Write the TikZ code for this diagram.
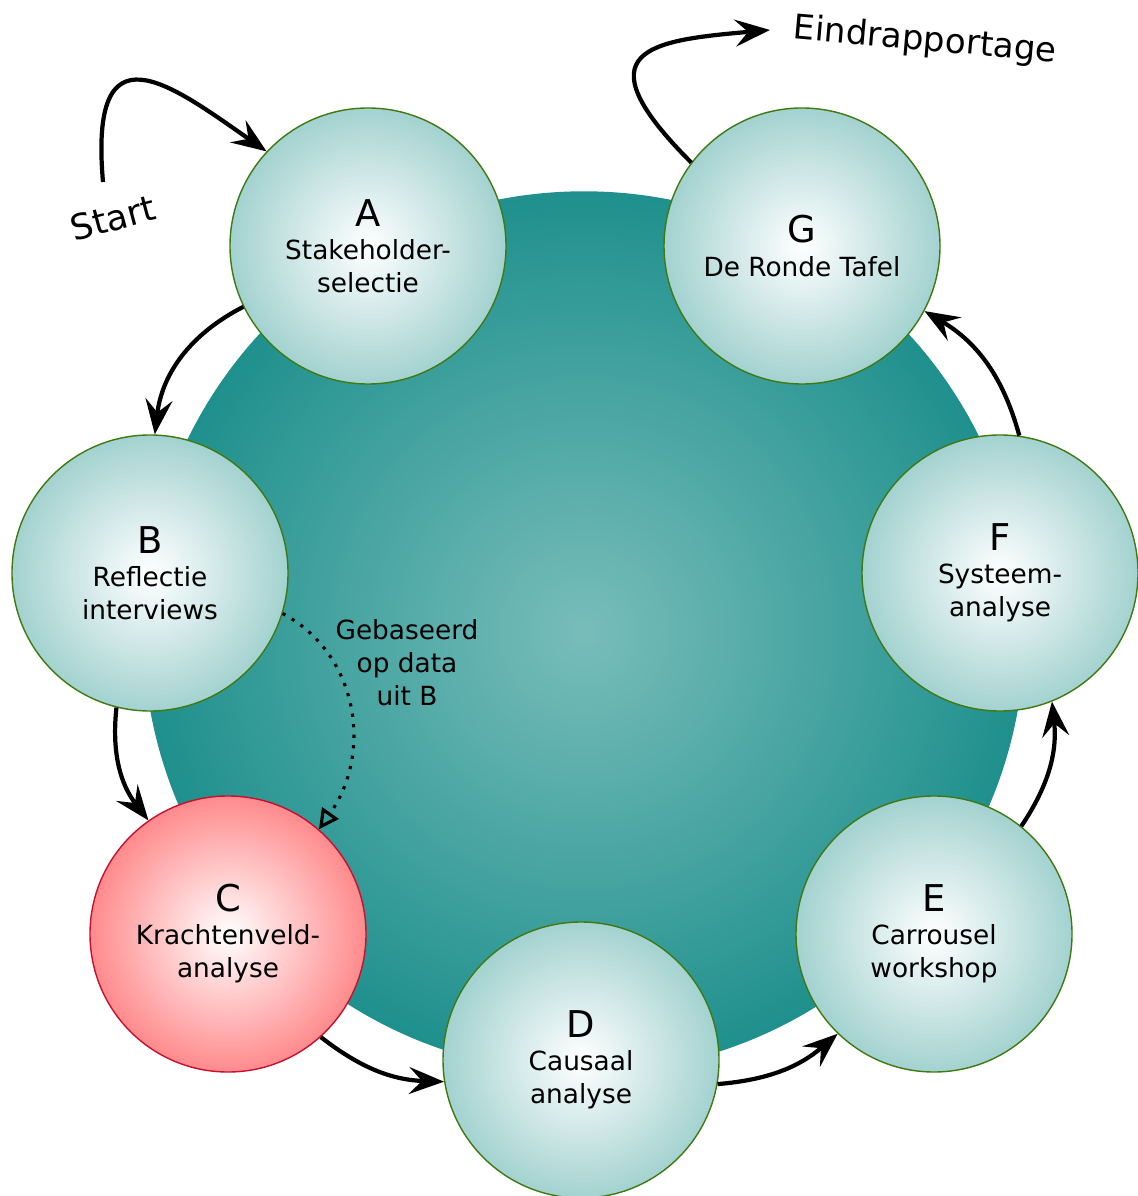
\documentclass[tikz,border=0pt]{standalone}
\usepackage{fontspec}
\setmainfont{DejaVu Sans}
\usetikzlibrary{positioning}
\usetikzlibrary{arrows.meta}
\definecolor{hubinner}{HTML}{78BDBA}
\definecolor{hubouter}{HTML}{1F908D}
\definecolor{stepouter}{HTML}{A3D2D0}
\definecolor{stepline}{HTML}{3F7A10}
\definecolor{hotouter}{HTML}{FF8A8C}
\definecolor{hotline}{HTML}{C8102E}
\tikzset{>={Stealth[length=3.5mm,width=2.7mm,inset=1.3mm]}}
\tikzset{
	% the big disc behind the steps
	hub/.style={circle,minimum size=8.8cm,inner sep=0pt,draw=hubouter,inner color=hubinner,outer color=hubouter},
	% step circles
	stepnode/.style={circle,minimum size=2.76cm,inner sep=0pt,draw=stepline,line width=0.4pt,
		inner color=white,outer color=stepouter,align=center,font=\fontsize{7.5}{9.4}\selectfont},
	hotstep/.style={stepnode,draw=hotline,outer color=hotouter},
	flow/.style={->,line width=1.2pt},
	basedon/.style={-{Triangle[open,length=2mm,width=2mm]},line width=0.9pt,dash pattern=on 0.9pt off 2.1pt},
}
\newcommand{\stepletter}[1]{{\fontsize{10.5}{11}\selectfont #1}}

\begin{document}
\begin{tikzpicture}
	\useasboundingbox (0,0) rectangle (11.37,-11.96);

	\node[hub] (hub) at (5.84,-6.32) {};

	\node[stepnode] (A) at (3.68,-2.46) {\stepletter{A}\\Stakeholder-\\selectie};
	\node[stepnode] (B) at (1.50,-5.73) {\stepletter{B}\\Reflectie\\interviews};
	\node[hotstep] (C) at (2.28,-9.34) {\stepletter{C}\\Krachtenveld-\\analyse};
	\node[stepnode] (D) at (5.81,-10.60) {\stepletter{D}\\Causaal\\analyse};
	\node[stepnode] (E) at (9.34,-9.34) {\stepletter{E}\\Carrousel\\workshop};
	\node[stepnode] (F) at (10.00,-5.73) {\stepletter{F}\\Systeem-\\analyse};
	\node[stepnode] (G) at (8.02,-2.46) {\stepletter{G}\\De Ronde Tafel};

	\node[font=\fontsize{10}{12}\selectfont,rotate=15] (start) at (1.13,-2.18) {Start};
	\node[font=\fontsize{9.7}{12}\selectfont,rotate=-5] (eind) at (9.25,-0.41) {Eindrapportage};
	\coordinate (startpt) at (1.03,-1.82);
	\coordinate (eindpt) at (7.70,-0.30);

	\node[align=center,font=\fontsize{7.5}{9.4}\selectfont] (note) at (4.07,-6.63) {Gebaseerd\\op data\\uit B};

	\draw[flow] (startpt) .. controls +(95:1.6) and +(145:1.2) .. (A.137);
	\draw[flow] (A.206) to[bend right=28] (B.88);
	\draw[flow] (B.256) to[bend right=22] (C.125);
	\draw[flow] (C.312) to[bend right=18] (D.189);
	\draw[flow] (D.350) to[bend right=18] (E.226);
	\draw[flow] (E.51) to[bend right=20] (F.292);
	\draw[flow] (F.82) to[bend right=22] (G.332);
	\draw[flow] (G.143) .. controls +(135:1.6) and +(185:1.2) .. (eindpt);

	\draw[basedon] (B.-17) .. controls +(-28:0.85) and +(55:0.95) .. (C.49);
\end{tikzpicture}
\end{document}
